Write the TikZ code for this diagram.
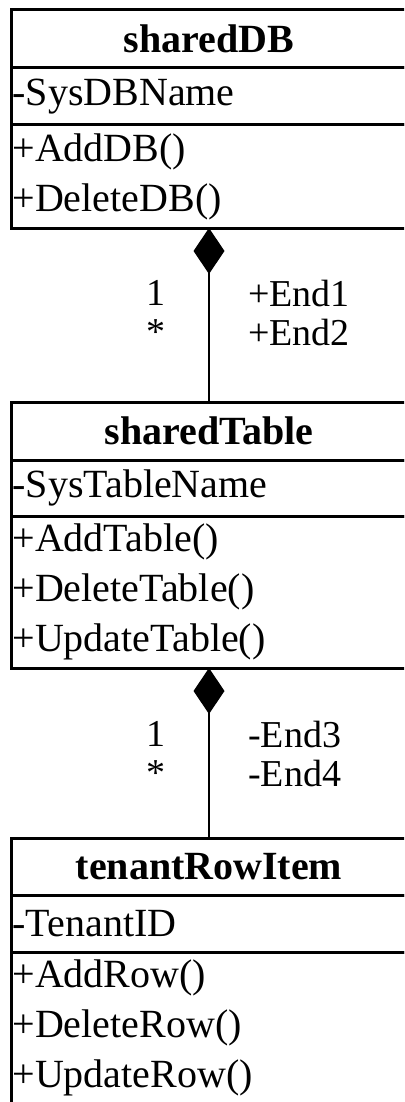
\documentclass[tikz,border=0pt]{standalone}
\usepackage{fontspec}
\setmainfont{Liberation Serif}
\usetikzlibrary{arrows.meta,positioning}

\begin{document}
\begin{tikzpicture}[x=1pt, y=-1pt,
  font=\fontsize{40}{50}\selectfont,
  part/.style={draw, line width=3pt, minimum width=395pt, inner xsep=1pt, inner ysep=0pt, outer sep=0pt},
  head/.style={part, font=\fontsize{40}{50}\selectfont\bfseries, minimum height=58pt, anchor=north},
  attr/.style={part, text width=393pt, align=left, minimum height=57pt},
  oper/.style={part, text width=393pt, align=left, minimum height=152pt},
  mult/.style={font=\fontsize{38}{39}\selectfont, inner sep=0pt, anchor=north, align=center},
  role/.style={font=\fontsize{38}{39}\selectfont, inner sep=0pt, anchor=north west, align=left},
  comp/.style={line width=1.5pt, {Diamond[length=46pt, width=31pt]}-}]
\useasboundingbox (0,0) rectangle (404,1102);
\clip (0,0) rectangle (404,1102);
% sharedDB
\node[head] (dbHead) at (209,10) {sharedDB};
\node[attr, below=0pt of dbHead] (dbAttr) {-SysDBName};
\node[oper, below=0pt of dbAttr, minimum height=103pt] (dbOps) {+AddDB()\\+DeleteDB()};
% sharedTable
\node[head] (tblHead) at (209,402) {sharedTable};
\node[attr, below=0pt of tblHead, minimum height=56pt] (tblAttr) {-SysTableName};
\node[oper, below=0pt of tblAttr] (tblOps) {+AddTable()\\+DeleteTable()\\+UpdateTable()};
% tenantRowItem
\node[head, minimum height=57pt] (tenHead) at (209,838) {tenantRowItem};
\node[attr, below=0pt of tenHead] (tenAttr) {-TenantID};
\node[oper, below=0pt of tenAttr] (tenOps) {+AddRow()\\+DeleteRow()\\+UpdateRow()};
% compositions
\draw[comp] (dbOps.south) -- (tblHead.north);
\draw[comp] (tblOps.south) -- (tenHead.north);
\node[mult] (dbMult) at (156,280) {1\\*};
\node[role] (dbRole) at (248,280) {+End1\\+End2};
\node[mult] (tblMult) at (156,721) {1\\*};
\node[role] (tblRole) at (248,721) {-End3\\-End4};
\end{tikzpicture}
\end{document}
